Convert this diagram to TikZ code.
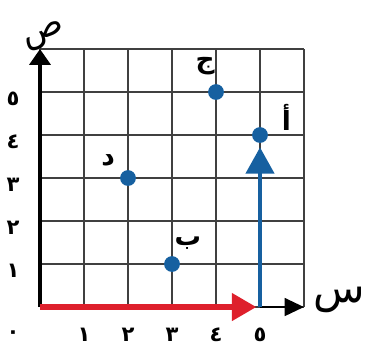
\documentclass[tikz,border=0pt]{standalone}
\usepackage{fontspec}
\newfontfamily\arabicfont[Script=Arabic]{DejaVu Sans}
\TeXXeTstate=1
\usetikzlibrary{arrows.meta}
\definecolor{ptblue}{RGB}{22,96,160}
\definecolor{arrred}{RGB}{222,32,44}

\begin{document}
\begin{tikzpicture}[x=0.88cm, y=0.86cm,
		lbl/.style={font=\arabicfont\bfseries\fontsize{15}{17}\selectfont},
		num/.style={font=\arabicfont\bfseries\fontsize{12}{14}\selectfont}]
			\useasboundingbox (-0.909,-1.0) rectangle (7.636,7.14);
			\coordinate (O) at (0,0);
			\coordinate (E) at (5,0);
			\coordinate (X) at (6,0);
			\coordinate (Y) at (0,6);
			\coordinate (A) at (5,4);
			\coordinate (B) at (3,1);
			\coordinate (C) at (4,5);
			\coordinate (D) at (2,3);
			\foreach \i in {0,...,6} {
				\draw[line width=1pt, black!75] (\i,0) -- (\i,6);
				\draw[line width=1pt, black!75] (0,\i) -- (6,\i);
			}
			\draw[line width=1.8pt, -{Triangle[length=9pt, width=12pt]}] (O) -- (Y);
			\draw[line width=1.6pt, -{Triangle[length=11pt, width=10pt]}] (E) -- (X);
			\draw[arrred, line width=3.5pt, shorten >=2pt, -{Triangle[length=14pt, width=15pt]}] (O) -- (E);
			\draw[ptblue, line width=2.4pt, shorten >=7pt, -{Triangle[length=15pt, width=16pt]}] (E) -- (A);
			\fill[ptblue] (A) circle (4.5pt);
			\fill[ptblue] (B) circle (4.5pt);
			\fill[ptblue] (C) circle (4.5pt);
			\fill[ptblue] (D) circle (4.5pt);
			\node[lbl] (lA) at (5.6,4.42) {\beginR أ\endR};
			\node[lbl] (lB) at (3.36,1.49) {\beginR ب\endR};
			\node[lbl] (lC) at (3.75,5.6) {\beginR ج\endR};
			\node[lbl] (lD) at (1.55,3.4) {\beginR د\endR};
			\node[font=\arabicfont\fontsize{24}{26}\selectfont] (xlab) at (6.8,0.16) {\beginR س\endR};
			\node[font=\arabicfont\fontsize{20}{22}\selectfont, rotate=20] (ylab) at (0.1,6.3) {\beginR ص\endR};
			\node[num] (n0) at (-0.61,-0.65) {٠};
			\node[num] (x1) at (1,-0.65) {١};
			\node[num] (x2) at (2,-0.65) {٢};
			\node[num] (x3) at (3,-0.65) {٣};
			\node[num] (x4) at (4,-0.65) {٤};
			\node[num] (x5) at (5,-0.65) {٥};
			\node[num] (y1) at (-0.61,0.85) {١};
			\node[num] (y2) at (-0.61,1.85) {٢};
			\node[num] (y3) at (-0.61,2.85) {٣};
			\node[num] (y4) at (-0.61,3.85) {٤};
			\node[num] (y5) at (-0.61,4.85) {٥};
		\end{tikzpicture}
\end{document}
